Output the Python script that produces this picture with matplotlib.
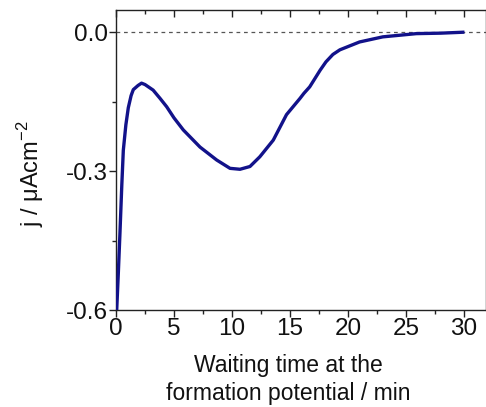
import matplotlib
matplotlib.use("Agg")
import matplotlib.pyplot as plt
from matplotlib.ticker import MultipleLocator

# waiting time (min) and current density (uA cm^-2)
time_min = [0.06, 0.2, 0.34, 0.5, 0.63, 0.85, 1.06, 1.3, 1.49, 1.9, 2.2, 2.5,
            3.2, 3.8, 4.37, 5.0, 5.8, 7.24, 8.68, 9.83, 10.69, 11.55, 12.4,
            13.56, 14.7, 15.86, 16.2, 16.7, 17.1, 17.6, 18.1, 18.7, 19.3,
            19.9, 20.3, 21.0, 23.0, 25.9, 28.0, 29.9]
current = [-0.600, -0.520, -0.434, -0.330, -0.255, -0.200, -0.163, -0.137,
           -0.124, -0.115, -0.110, -0.113, -0.125, -0.143, -0.161, -0.185,
           -0.211, -0.248, -0.276, -0.294, -0.296, -0.290, -0.269, -0.233,
           -0.178, -0.143, -0.132, -0.118, -0.102, -0.082, -0.064, -0.048,
           -0.038, -0.032, -0.028, -0.021, -0.010, -0.003, -0.002, 0.000]

x_ticks = [0, 5, 10, 15, 20, 25, 30]
y_ticks = [-0.6, -0.3, 0.0]

plt.rcParams["font.family"] = ["Liberation Sans", "DejaVu Sans"]
plt.rcParams["mathtext.fontset"] = "custom"
plt.rcParams["mathtext.rm"] = "Liberation Sans"

fig = plt.figure(figsize=(4.86, 4.07), dpi=100)
ax = fig.add_axes([0.2387, 0.2383, 0.7613, 0.7371])

ax.axhline(0.0, color="#555555", lw=0.9, ls=(0, (3, 3)), zorder=1)
ax.plot(time_min, current, color="#12128a", lw=2.4, solid_joinstyle="round",
        zorder=3)

ax.set_xlim(0, 31.9)
ax.set_ylim(-0.6, 0.048)
ax.set_xticks(x_ticks)
ax.set_yticks(y_ticks)
ax.set_yticklabels([f"{v:.1f}" for v in y_ticks])
ax.xaxis.set_minor_locator(MultipleLocator(2.5))
ax.yaxis.set_minor_locator(MultipleLocator(0.15))

ax.tick_params(axis="both", which="major", labelsize=17.5, width=1.0,
               length=5, direction="out", pad=1, color="#222222",
               labelcolor="#111111")
ax.tick_params(axis="both", which="minor", width=1.0, length=3,
               direction="out", color="#222222")
ax.tick_params(axis="x", which="both", top=True)
for spine in ax.spines.values():
    spine.set_linewidth(1.0)
    spine.set_color("#222222")

# top ticks point into the frame
for t in ax.xaxis.get_major_ticks() + ax.xaxis.get_minor_ticks():
    t.tick2line.set_marker(3)

ax.set_xlabel("Waiting time at the\nformation potential / min", fontsize=16.5,
              linespacing=1.32, color="#111111")
ax.xaxis.set_label_coords(0.465, -0.145)
ax.xaxis.label.set_va("top")
ax.set_ylabel(r"j / $\mathregular{\mu}$Acm$^{\mathregular{-2}}$", fontsize=17,
              color="#111111")
ax.yaxis.set_label_coords(-0.19, 0.455)

fig.savefig("out.png", dpi=100)
